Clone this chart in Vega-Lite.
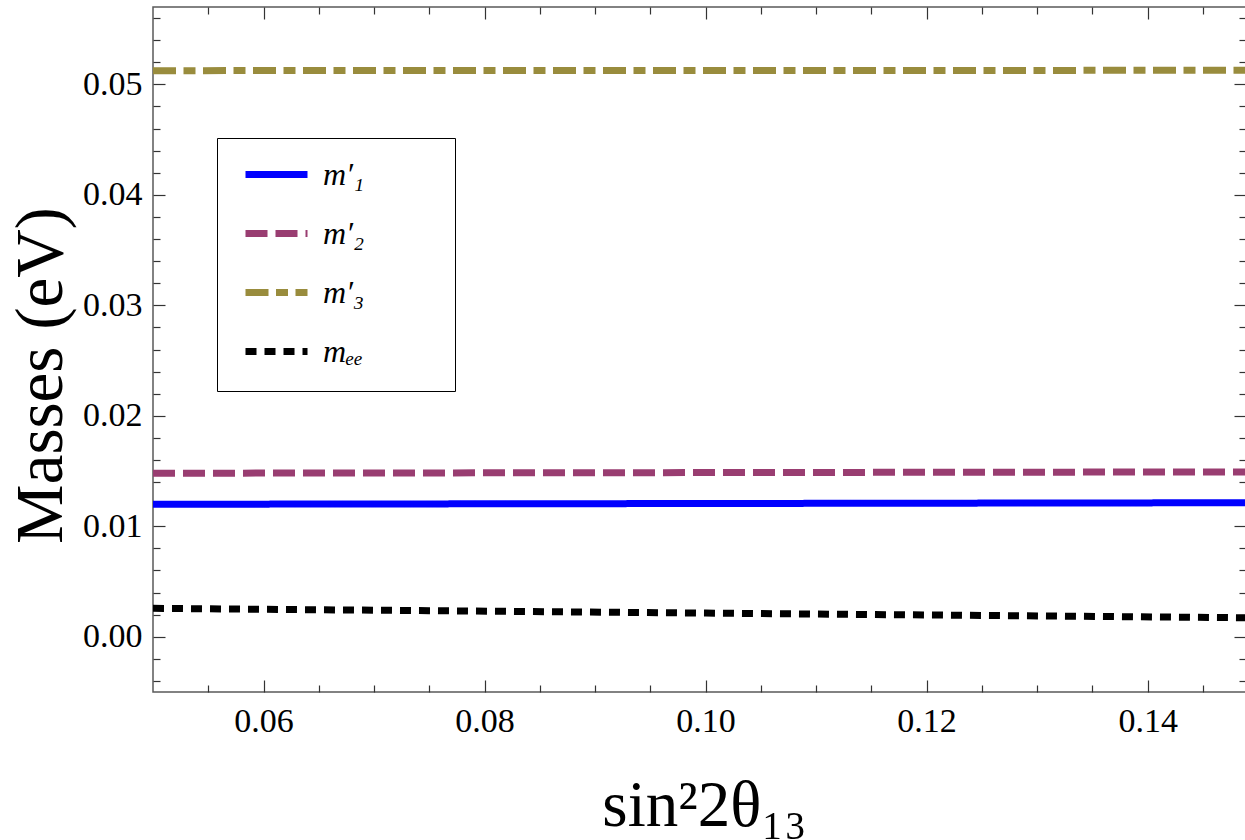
{
  "$schema": "https://vega.github.io/schema/vega-lite/v6.json",
  "autosize": {"type": "none"},
  "padding": {"left": 153, "top": 7, "right": 0, "bottom": 148},
  "width": 1093,
  "height": 685,
  "background": "white",
  "config": {
    "view": {"stroke": "#5a5a5a", "strokeWidth": 1.5},
    "font": "Liberation Serif",
    "axis": {"grid": false, "domain": false, "labelFont": "Liberation Serif", "titleFont": "Liberation Serif", "labelColor": "black", "titleColor": "black", "tickColor": "#333", "tickWidth": 1.2, "titleFontWeight": "normal"}
  },
  "data": {"values": [
    {"s": "m1", "x": 0.05, "m": 0.01199},
    {"s": "m1", "x": 0.1, "m": 0.01206},
    {"s": "m1", "x": 0.1489, "m": 0.01213},
    {"s": "m2", "x": 0.05, "m": 0.0148},
    {"s": "m2", "x": 0.1, "m": 0.01486},
    {"s": "m2", "x": 0.1489, "m": 0.01492},
    {"s": "m3", "x": 0.05, "m": 0.05124},
    {"s": "m3", "x": 0.1, "m": 0.05125},
    {"s": "m3", "x": 0.1489, "m": 0.05127},
    {"s": "mee", "x": 0.05, "m": 0.00257},
    {"s": "mee", "x": 0.075, "m": 0.00236},
    {"s": "mee", "x": 0.1, "m": 0.00214},
    {"s": "mee", "x": 0.125, "m": 0.00193},
    {"s": "mee", "x": 0.1489, "m": 0.00172}
  ]},
  "layer": [
    {
      "mark": {"type": "line", "strokeWidth": 7, "strokeCap": "butt", "clip": true},
      "encoding": {
        "x": {"field": "x", "type": "quantitative", "scale": {"domain": [0.05, 0.1489], "nice": false, "zero": false},
          "axis": {"orient": "bottom", "values": [0.06, 0.08, 0.10, 0.12, 0.14], "format": ".2f", "tickSize": -12, "labelFontSize": 34, "labelPadding": 24,
            "title": "sin²2θ₁₃", "titleFontSize": 65, "titleX": 551, "titleY": 133, "titleAlign": "center", "titleBaseline": "alphabetic"}},
        "y": {"field": "m", "type": "quantitative", "scale": {"domain": [-0.005, 0.057], "nice": false, "zero": false},
          "axis": {"orient": "left", "values": [0, 0.01, 0.02, 0.03, 0.04, 0.05], "format": ".2f", "tickSize": -12, "labelFontSize": 34, "labelPadding": 23,
            "title": "Masses (eV)", "titleFontSize": 67, "titleAngle": -90, "titleX": -92, "titleY": 368, "titleAlign": "center", "titleBaseline": "alphabetic"}},
        "color": {"field": "s", "type": "nominal",
          "scale": {"domain": ["m1", "m2", "m3", "mee"], "range": ["#0000FF", "#993D71", "#998C3D", "#000000"]},
          "legend": {"orient": "none", "legendX": 64, "legendY": 131, "title": "mmmmmmmmmmmmmmmmmmmmmmmmm", "titleOrient": "bottom", "titleFont": "Liberation Serif", "titleFontWeight": "normal", "titleFontSize": 12, "titlePadding": 10, "titleOpacity": 0, "titleLimit": 500, "padding": 2, "strokeColor": "black", "fillColor": "white",
            "symbolType": "stroke", "symbolSize": 3844, "symbolStrokeWidth": 7, "symbolOffset": 23, "labelOffset": 12, "labelFontSize": 32, "labelFont": "Liberation Serif", "labelFontStyle": "italic", "rowPadding": 8, "labelLimit": 0,
            "labelExpr": "datum.label == 'm1' ? 'm′₁' : datum.label == 'm2' ? 'm′₂' : datum.label == 'm3' ? 'm′₃' : 'mₑₑ'"}},
        "strokeDash": {"field": "s", "type": "nominal",
          "scale": {"domain": ["m1", "m2", "m3", "mee"], "range": [[1, 0], [22, 8], [23, 7.5, 12, 7.5], [11, 8]]},
          "legend": {"orient": "none", "legendX": 64, "legendY": 131, "title": "mmmmmmmmmmmmmmmmmmmmmmmmm", "titleOrient": "bottom", "titleFont": "Liberation Serif", "titleFontWeight": "normal", "titleFontSize": 12, "titlePadding": 10, "titleOpacity": 0, "titleLimit": 500, "padding": 2, "strokeColor": "black", "fillColor": "white",
            "symbolType": "stroke", "symbolSize": 3844, "symbolStrokeWidth": 7, "symbolOffset": 23, "labelOffset": 12, "labelFontSize": 32, "labelFont": "Liberation Serif", "labelFontStyle": "italic", "rowPadding": 8, "labelLimit": 0,
            "labelExpr": "datum.label == 'm1' ? 'm′₁' : datum.label == 'm2' ? 'm′₂' : datum.label == 'm3' ? 'm′₃' : 'mₑₑ'"}}
      }
    },
    {
      "mark": {"type": "line", "opacity": 0},
      "encoding": {
        "x": {"field": "x", "type": "quantitative", "scale": {"domain": [0.05, 0.1489], "nice": false, "zero": false},
          "axis": {"orient": "bottom", "values": [0.055, 0.065, 0.07, 0.075, 0.085, 0.09, 0.095, 0.105, 0.11, 0.115, 0.125, 0.13, 0.135, 0.145], "tickSize": -7, "labels": false, "title": null}},
        "y": {"field": "m", "type": "quantitative", "scale": {"domain": [-0.005, 0.057], "nice": false, "zero": false},
          "axis": {"orient": "left", "values": [-0.004, -0.002, 0.002, 0.004, 0.006, 0.008, 0.012, 0.014, 0.016, 0.018, 0.022, 0.024, 0.026, 0.028, 0.032, 0.034, 0.036, 0.038, 0.042, 0.044, 0.046, 0.048, 0.052, 0.054, 0.056], "tickSize": -7, "labels": false, "title": null}}
      }
    },
    {
      "mark": {"type": "line", "opacity": 0},
      "encoding": {
        "x": {"field": "x", "type": "quantitative", "scale": {"domain": [0.05, 0.1489], "nice": false, "zero": false},
          "axis": {"orient": "top", "values": [0.06, 0.08, 0.10, 0.12, 0.14], "tickSize": -12, "labels": false, "title": null}},
        "y": {"field": "m", "type": "quantitative", "scale": {"domain": [-0.005, 0.057], "nice": false, "zero": false},
          "axis": {"orient": "right", "values": [0, 0.01, 0.02, 0.03, 0.04, 0.05], "tickSize": -12, "labels": false, "title": null}}
      }
    },
    {
      "mark": {"type": "line", "opacity": 0},
      "encoding": {
        "x": {"field": "x", "type": "quantitative", "scale": {"domain": [0.05, 0.1489], "nice": false, "zero": false},
          "axis": {"orient": "top", "values": [0.055, 0.065, 0.07, 0.075, 0.085, 0.09, 0.095, 0.105, 0.11, 0.115, 0.125, 0.13, 0.135, 0.145], "tickSize": -7, "labels": false, "title": null}},
        "y": {"field": "m", "type": "quantitative", "scale": {"domain": [-0.005, 0.057], "nice": false, "zero": false},
          "axis": {"orient": "right", "values": [-0.004, -0.002, 0.002, 0.004, 0.006, 0.008, 0.012, 0.014, 0.016, 0.018, 0.022, 0.024, 0.026, 0.028, 0.032, 0.034, 0.036, 0.038, 0.042, 0.044, 0.046, 0.048, 0.052, 0.054, 0.056], "tickSize": -7, "labels": false, "title": null}}
      }
    }
  ],
  "resolve": {"axis": {"x": "independent", "y": "independent"}}
}
